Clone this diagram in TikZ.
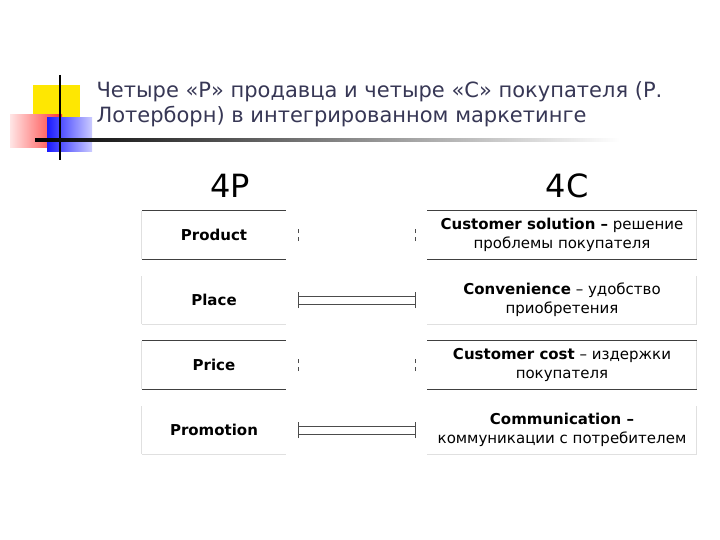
\documentclass[tikz,border=0pt]{standalone}
\usepackage{fontspec}
\setmainfont{DejaVu Sans}
\definecolor{ttl}{RGB}{55,55,85}
\begin{document}
\begin{tikzpicture}[x=1pt,y=-1pt,
  box/.style={draw=none,minimum height=48pt,align=center,font=\fontsize{15}{19}\selectfont},
  hl/.style={draw=black!75,line width=0.8pt},
  sl/.style={draw=black!12,line width=0.8pt},
  arr/.style={draw=black!70,line width=0.6pt}]
\useasboundingbox (0,0) rectangle (720,540);
% decoration
\fill[yellow!90!orange] (33,85) rectangle (80,130);
\shade[left color=red!10,right color=red!80] (10,115) rectangle (62,148);
\shade[left color=blue!90,right color=blue!20] (47,118) rectangle (92,152);
\draw[line width=1.5pt] (60,75) -- (60,160);
\shade[left color=black,right color=white] (35,139) rectangle (620,142);
\node[anchor=west,align=left,text=ttl,font=\fontsize{21}{25}\selectfont] (title) at (93,104)
 {Четыре «Р» продавца и четыре «С» покупателя (Р.\\Лотерборн) в интегрированном маркетинге};
\node[font=\fontsize{32}{34}\selectfont] (p) at (230,186) {4Р};
\node[font=\fontsize{32}{34}\selectfont] (c) at (567,186) {4С};
\foreach \i/\y/\l/\r in {1/235/Product/{\textbf{Customer solution –} решение\\проблемы покупателя},
  2/300/Place/{\textbf{Convenience} – удобство\\приобретения},
  3/365/Price/{\textbf{Customer cost} – издержки\\покупателя},
  4/430/Promotion/{\textbf{Communication –}\\коммуникации с потребителем}}{
  \node[box,minimum width=144pt] (L\i) at (214,\y) {\textbf{\l}};
  \node[box,minimum width=269pt] (R\i) at (562,\y) {\r};
  \draw[sl] (L\i.north west) -- (L\i.south west);
  \draw[sl] (R\i.north east) -- (R\i.south east);
}
\foreach \i in {1,3}{
  \draw[hl] (L\i.north west) -- (L\i.north east); \draw[hl] (L\i.south west) -- (L\i.south east);
  \draw[hl] (R\i.north west) -- (R\i.north east); \draw[hl] (R\i.south west) -- (R\i.south east);
  \draw[arr] ([xshift=12pt,yshift=-6pt]L\i.east) -- ([xshift=12pt,yshift=-2pt]L\i.east)
             ([xshift=12pt,yshift=2pt]L\i.east) -- ([xshift=12pt,yshift=6pt]L\i.east);
  \draw[arr] ([xshift=-12pt,yshift=-6pt]R\i.west) -- ([xshift=-12pt,yshift=-2pt]R\i.west)
             ([xshift=-12pt,yshift=2pt]R\i.west) -- ([xshift=-12pt,yshift=6pt]R\i.west);
}
\foreach \i in {2,4}{
  \draw[sl] (L\i.south west) -- (L\i.south east);
  \draw[sl] (R\i.south west) -- (R\i.south east);
  \draw[arr] ([xshift=12pt,yshift=-4pt]L\i.east) -- ([xshift=-12pt,yshift=-4pt]R\i.west);
  \draw[arr] ([xshift=12pt,yshift=4pt]L\i.east) -- ([xshift=-12pt,yshift=4pt]R\i.west);
  \draw[arr] ([xshift=12pt,yshift=-8pt]L\i.east) -- ([xshift=12pt,yshift=8pt]L\i.east);
  \draw[arr] ([xshift=-12pt,yshift=-8pt]R\i.west) -- ([xshift=-12pt,yshift=8pt]R\i.west);
}
\end{tikzpicture}
\end{document}
